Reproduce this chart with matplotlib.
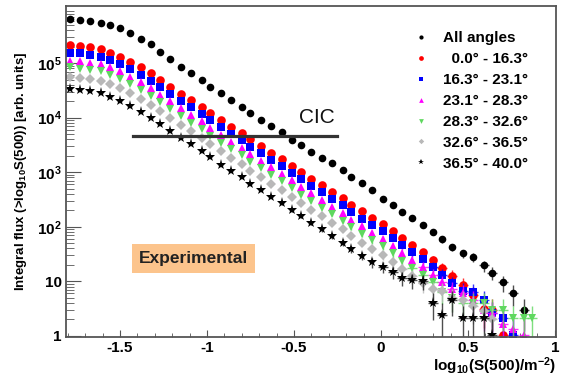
"""Integral flux vs log10(S(500)) for several zenith angle bins"""
import numpy as np
import matplotlib
matplotlib.use('Agg')
import matplotlib.pyplot as plt
from matplotlib.ticker import MultipleLocator, LogLocator, NullFormatter

plt.rcParams['font.family'] = ['Liberation Sans', 'DejaVu Sans']
plt.rcParams['font.weight'] = 'bold'
plt.rcParams['mathtext.fontset'] = 'custom'
plt.rcParams['mathtext.rm'] = 'Liberation Sans:bold'
plt.rcParams['mathtext.it'] = 'Liberation Sans:bold'
plt.rcParams['mathtext.bf'] = 'Liberation Sans:bold'
plt.rcParams['axes.unicode_minus'] = False

# bin centres in log10(S(500)/m^-2)
x = [-1.79, -1.73, -1.67, -1.61, -1.56, -1.50, -1.44, -1.38, -1.32, -1.27,
     -1.21, -1.15, -1.09, -1.03, -0.98, -0.92, -0.86, -0.80, -0.75, -0.69,
     -0.63, -0.57, -0.51, -0.46, -0.40, -0.34, -0.28, -0.22, -0.17, -0.11,
     -0.05, 0.01, 0.07, 0.12, 0.18, 0.24, 0.30, 0.35, 0.41, 0.47,
     0.53, 0.59, 0.64, 0.70, 0.76, 0.82, 0.87]

# log10 of integral flux
lg_all = [5.81, 5.79, 5.77, 5.74, 5.70, 5.64, 5.55, 5.44, 5.35, 5.20,
          5.07, 4.93, 4.82, 4.69, 4.56, 4.45, 4.32, 4.19, 4.08, 3.95,
          3.84, 3.73, 3.59, 3.50, 3.37, 3.26, 3.17, 3.04, 2.91, 2.80,
          2.67, 2.51, 2.39, 2.27, 2.16, 2.03, 1.90, 1.77, 1.62, 1.51,
          1.44, 1.29, 1.15, 0.98, 0.78, 0.47]
lg_00_16 = [5.33, 5.31, 5.29, 5.26, 5.19, 5.12, 5.02, 4.92, 4.81, 4.69,
            4.57, 4.44, 4.32, 4.20, 4.08, 3.95, 3.83, 3.72, 3.60, 3.48,
            3.36, 3.24, 3.12, 3.00, 2.88, 2.76, 2.64, 2.52, 2.40, 2.28,
            2.16, 2.05, 1.92, 1.79, 1.66, 1.53, 1.39, 1.24, 1.09, 0.93,
            0.74, 0.50, 0.47, 0.02]
lg_16_23 = [5.19, 5.18, 5.15, 5.12, 5.06, 4.99, 4.90, 4.79, 4.68, 4.56,
            4.44, 4.31, 4.19, 4.07, 3.95, 3.82, 3.70, 3.59, 3.47, 3.35,
            3.23, 3.11, 2.99, 2.87, 2.75, 2.63, 2.51, 2.39, 2.27, 2.15,
            2.03, 1.92, 1.79, 1.66, 1.53, 1.40, 1.26, 1.11, 0.96, 0.83,
            0.80, 0.65, 0.41, 0.32, 0.02]
lg_23_28 = [5.04, 5.03, 5.01, 4.98, 4.92, 4.85, 4.75, 4.65, 4.54, 4.42,
            4.30, 4.17, 4.05, 3.93, 3.81, 3.68, 3.56, 3.45, 3.33, 3.21,
            3.09, 2.97, 2.85, 2.73, 2.61, 2.49, 2.37, 2.25, 2.13, 2.01,
            1.89, 1.78, 1.65, 1.52, 1.39, 1.26, 1.12, 0.98, 0.85, 0.78,
            0.65, 0.47, 0.41, 0.21, 0.12, 0.02]
lg_28_33 = [4.92, 4.90, 4.88, 4.85, 4.78, 4.71, 4.61, 4.51, 4.40, 4.28,
            4.16, 4.03, 3.91, 3.79, 3.67, 3.54, 3.42, 3.31, 3.19, 3.07,
            2.95, 2.83, 2.71, 2.59, 2.47, 2.35, 2.23, 2.11, 1.99, 1.87,
            1.75, 1.64, 1.51, 1.38, 1.25, 1.12, 0.98, 0.80, 0.70, 0.60,
            0.61, 0.60, 0.47, 0.47, 0.32, 0.32, 0.32]
lg_33_37 = [4.75, 4.73, 4.71, 4.68, 4.62, 4.55, 4.45, 4.35, 4.24, 4.12,
            4.00, 3.87, 3.75, 3.63, 3.51, 3.38, 3.26, 3.15, 3.03, 2.91,
            2.79, 2.67, 2.55, 2.43, 2.31, 2.19, 2.07, 1.95, 1.83, 1.71,
            1.59, 1.48, 1.35, 1.22, 1.09, 0.96, 0.85, 0.83, 0.70, 0.65,
            0.55, 0.45, 0.30]
lg_37_40 = [4.52, 4.50, 4.48, 4.45, 4.38, 4.31, 4.21, 4.11, 4.00, 3.88,
            3.76, 3.63, 3.51, 3.39, 3.27, 3.14, 3.02, 2.91, 2.79, 2.67,
            2.55, 2.43, 2.31, 2.19, 2.07, 1.95, 1.83, 1.71, 1.59, 1.47,
            1.35, 1.26, 1.17, 1.06, 1.02, 1.00, 0.60, 0.38, 0.65, 0.32,
            0.32, 0.32, 0.02]

labels = ['All angles', '  0.0\u00b0 - 16.3\u00b0', '16.3\u00b0 - 23.1\u00b0',
          '23.1\u00b0 - 28.3\u00b0', '28.3\u00b0 - 32.6\u00b0',
          '32.6\u00b0 - 36.5\u00b0', '36.5\u00b0 - 40.0\u00b0']
series = [lg_all, lg_00_16, lg_16_23, lg_23_28, lg_28_33, lg_33_37, lg_37_40]
colors = ['black', 'red', 'blue', 'magenta', '#5fd85f', '#b8b8b8', 'black']
markers = ['o', 'o', 's', '^', 'v', 'D', '*']
msizes = [5.5, 6.2, 5.8, 6.2, 6.2, 5.0, 8.0]

ytick_vals = [1, 10, 1e2, 1e3, 1e4, 1e5]
ytick_labels = ['1', '10', '10$^{2}$', '10$^{3}$', '10$^{4}$', '10$^{5}$']
xtick_vals = [-1.5, -1, -0.5, 0, 0.5, 1]
xtick_labels = ['-1.5', '-1', '-0.5', '0', '0.5', '1']

cic_level = 4570
cic_range = [-1.425, -0.25]

fig = plt.figure(figsize=(5.7, 3.81), dpi=100)
ax = fig.add_axes([0.116, 0.1155, 0.859, 0.869])

handles = []
for lg, c, m, ms, lab in zip(series, colors, markers, msizes, labels):
    xs = np.array(x[:len(lg)])
    flux = 10.0 ** np.array(lg)
    rel = 1 / np.sqrt(flux)
    yerr = [flux * np.minimum(rel, 0.95), flux * rel]
    xerr = np.where(flux < 20, 0.029, 0)
    ax.errorbar(xs, flux, yerr=yerr, xerr=xerr, fmt='none',
                ecolor=c if c != 'black' else '#222222', elinewidth=1.0,
                alpha=0.8)
    h, = ax.plot(xs, flux, linestyle='none', marker=m, color=c,
                 markersize=ms, markeredgewidth=0, label=lab)
    handles.append(h)

ax.plot(cic_range, [cic_level, cic_level], color='#333333', lw=2.3)
ax.text(-0.37, 1.0e4, 'CIC', fontsize=15, fontweight='normal',
        ha='center', va='center', color='#111111')
ax.text(-1.08, 26, 'Experimental', fontsize=12.5, fontweight='bold',
        ha='center', va='center', color='#222222',
        bbox=dict(boxstyle='square,pad=0.4', fc='#fcc48c', ec='none'))

ax.set_yscale('log')
ax.set_xlim(-1.81, 1.005)
ax.set_ylim(0.95, 1.12e6)

ax.tick_params(axis='both', which='both', direction='in', labelsize=11,
               color='#555555')
ax.tick_params(axis='y', which='major', length=11, pad=3)
ax.tick_params(axis='y', which='minor', length=6)
ax.tick_params(axis='x', which='major', length=5, pad=3)
ax.tick_params(axis='x', which='minor', length=3)

ax.set_yticks(ytick_vals, ytick_labels, fontweight='bold', fontsize=11)
ax.yaxis.set_minor_locator(LogLocator(base=10, subs=np.arange(2, 10)))
ax.yaxis.set_minor_formatter(NullFormatter())
ax.set_xticks(xtick_vals, xtick_labels, fontweight='bold', fontsize=11)
ax.xaxis.set_minor_locator(MultipleLocator(0.1))

for sp in ax.spines.values():
    sp.set_color('#555555')
    sp.set_linewidth(1.3)

ax.set_ylabel('Integral flux (>log$_{10}$S(500)) [arb. units]',
              fontsize=9.5, fontweight='bold', labelpad=6)
ax.set_xlabel('log$_{10}$(S(500)/m$^{-2}$)', fontsize=11, fontweight='bold',
              loc='right', labelpad=0)

ax.legend(handles=handles, loc='upper left', bbox_to_anchor=(0.71, 0.923),
          frameon=False, prop={'size': 11, 'weight': 'bold'},
          markerscale=0.55, handlelength=1.0, handletextpad=0.9,
          labelspacing=0.45, borderaxespad=0, borderpad=0)

fig.savefig('out.png', dpi=100)
